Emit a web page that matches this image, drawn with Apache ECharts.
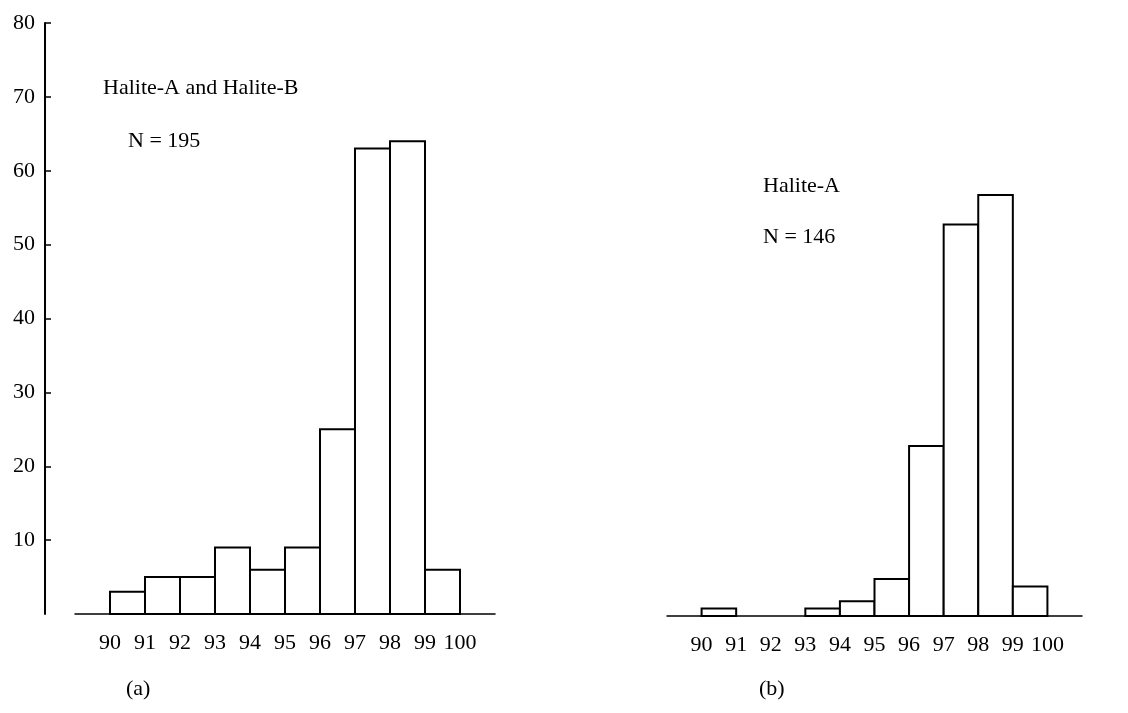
<!DOCTYPE html>
<html>
<head>
<meta charset="utf-8">
<script src="https://cdn.jsdelivr.net/npm/echarts@6/dist/echarts.min.js"></script>
<style>
  html, body { margin: 0; padding: 0; background: #fff; }
  #chart { width: 1128px; height: 713px; }
</style>
</head>
<body>
<div id="chart"></div>
<script>
// Lower edge of each one-unit bin
const binStarts = [90, 91, 92, 93, 94, 95, 96, 97, 98, 99];
// Sample counts per bin
const countsAB = [3, 5, 5, 9, 6, 9, 25, 63, 64, 6];   // Halite-A and Halite-B, N = 195
const countsA  = [1, 0, 0, 1, 2, 5, 23, 53, 57, 4];   // Halite-A, N = 146
// Frequency axis ticks
const yTicks = [0, 10, 20, 30, 40, 50, 60, 70, 80];
// Bin-edge labels along the bottom
const xTickLabels = ['90', '91', '92', '93', '94', '95', '96', '97', '98', '99', '100'];

const serif = '"Liberation Serif", "DejaVu Serif", serif';
const textSize = 22;

function toPairs(counts) {
  return binStarts.map((s, i) => [s, counts[i]]);
}

// Each bin is an outlined box spanning [start, start + 1] on the x scale
function histItem(params, api) {
  const x0 = api.value(0);
  const h = api.value(1);
  if (!h) return { type: 'group', children: [] };
  const top = api.coord([x0, h]);
  const bottom = api.coord([x0 + 1, 0]);
  return {
    type: 'rect',
    shape: { x: top[0], y: top[1], width: bottom[0] - top[0], height: bottom[1] - top[1] },
    style: { fill: '#ffffff', stroke: '#000000', lineWidth: 2 }
  };
}

function xAxisFor(gridIndex) {
  return {
    type: 'value', gridIndex: gridIndex,
    min: 89, max: 101, interval: 1,
    axisLine: { show: true, lineStyle: { color: '#000', width: 1.5 } },
    axisTick: { show: false },
    splitLine: { show: false },
    axisLabel: {
      color: '#000', fontFamily: serif, fontSize: textSize, margin: 18,
      formatter: v => (xTickLabels.indexOf(String(v)) >= 0 ? String(v) : '')
    }
  };
}

function note(text, left, top) {
  return { type: 'text', left: left, top: top, style: { text: text, font: textSize + 'px ' + serif, fill: '#000' } };
}

const chart = echarts.init(document.getElementById('chart'), null, { renderer: 'canvas' });

chart.setOption({
  animation: false,
  backgroundColor: '#ffffff',
  grid: [
    { left: 75, top: 23, width: 420, height: 591 },
    { left: 667, top: 25, width: 415, height: 591 }
  ],
  xAxis: [xAxisFor(0), xAxisFor(1)],
  yAxis: [
    {
      type: 'value', gridIndex: 0, offset: 30,
      min: yTicks[0], max: yTicks[yTicks.length - 1], interval: yTicks[1] - yTicks[0],
      axisLine: { show: true, lineStyle: { color: '#000', width: 2 } },
      axisTick: { show: true, inside: true, length: 6, lineStyle: { color: '#000', width: 1.5 } },
      splitLine: { show: false },
      axisLabel: { showMinLabel: false, color: '#000', fontFamily: serif, fontSize: textSize, margin: 10 }
    },
    {
      type: 'value', gridIndex: 1, show: false,
      min: yTicks[0], max: yTicks[yTicks.length - 1], interval: yTicks[1] - yTicks[0]
    }
  ],
  series: [
    { type: 'custom', xAxisIndex: 0, yAxisIndex: 0, renderItem: histItem, data: toPairs(countsAB) },
    { type: 'custom', xAxisIndex: 1, yAxisIndex: 1, renderItem: histItem, data: toPairs(countsA) }
  ],
  graphic: [
    note('Halite-A and Halite-B', 103, 77),
    note('N = 195', 128, 130),
    note('Halite-A', 763, 175),
    note('N = 146', 763, 226),
    note('(a)', 126, 678),
    note('(b)', 759, 678)
  ]
});
</script>
</body>
</html>
